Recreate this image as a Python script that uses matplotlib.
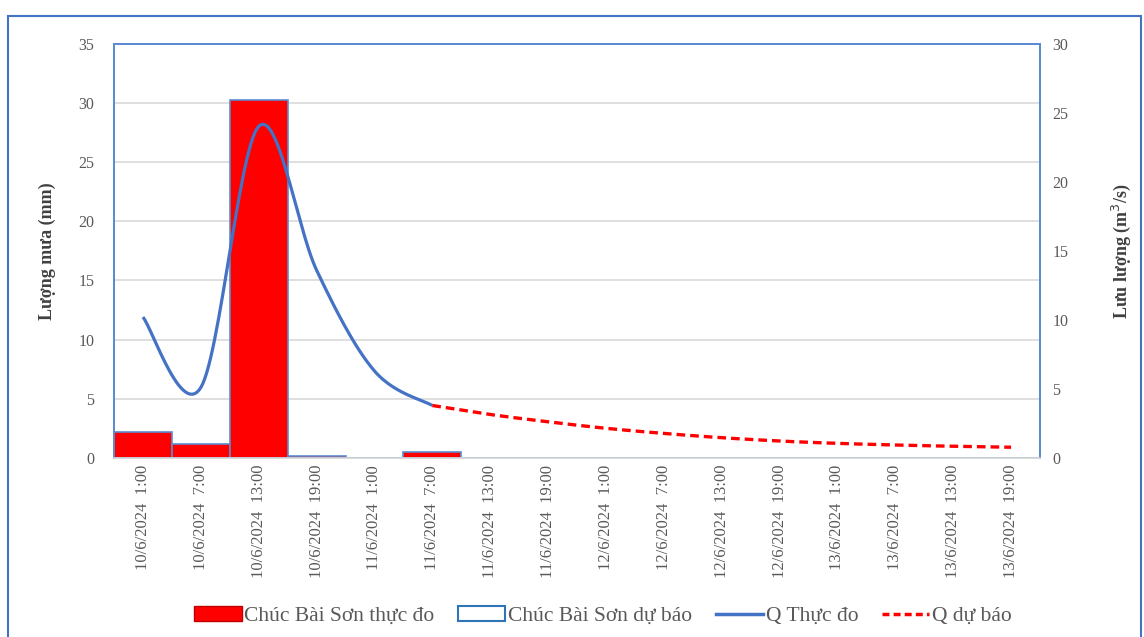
import numpy as np
import matplotlib
matplotlib.use("Agg")
import matplotlib.pyplot as plt
from matplotlib.patches import Rectangle, Patch
from matplotlib.lines import Line2D

plt.rcParams['font.family'] = ['Liberation Serif', 'DejaVu Serif']

# ---- data ----
time_labels = [
    "10/6/2024  1:00", "10/6/2024  7:00", "10/6/2024  13:00", "10/6/2024  19:00",
    "11/6/2024  1:00", "11/6/2024  7:00", "11/6/2024  13:00", "11/6/2024  19:00",
    "12/6/2024  1:00", "12/6/2024  7:00", "12/6/2024  13:00", "12/6/2024  19:00",
    "13/6/2024  1:00", "13/6/2024  7:00", "13/6/2024  13:00", "13/6/2024  19:00",
]
rain_observed = [2.2, 1.2, 30.2, 0.2, 0.0, 0.5, 0, 0, 0, 0, 0, 0, 0, 0, 0, 0]
rain_forecast = [0] * 16
q_observed = [10.2, 5.1, 24.0, 13.6, 6.3, 3.8]          # categories 0..5
q_forecast = [3.8, 3.15, 2.62, 2.15, 1.78, 1.47, 1.23, 1.06, 0.94, 0.85, 0.78]  # categories 5..15

BLUE = "#4472C4"
EDGE = "#5B8BD0"
GRAY = "#595959"
GRID = "#D9D9D9"


def smooth(xs, ys, n=30):
    """Excel-style smoothed line: cubic Bezier with Catmull-Rom control points."""
    xs = np.asarray(xs, float)
    ys = np.asarray(ys, float)
    pts = np.column_stack([xs, ys])
    out = []
    for i in range(len(pts) - 1):
        p0 = pts[i - 1] if i > 0 else pts[i]
        p1 = pts[i]
        p2 = pts[i + 1]
        p3 = pts[i + 2] if i + 2 < len(pts) else pts[i + 1]
        c1 = p1 + (p2 - p0) / 6.0
        c2 = p2 - (p3 - p1) / 6.0
        t = np.linspace(0, 1, n)[:, None]
        seg = ((1 - t) ** 3) * p1 + 3 * ((1 - t) ** 2) * t * c1 + 3 * (1 - t) * t ** 2 * c2 + t ** 3 * p2
        out.append(seg if i == 0 else seg[1:])
    seg = np.vstack(out)
    return seg[:, 0], seg[:, 1]


fig = plt.figure(figsize=(11.44, 6.37), dpi=100)
ax = fig.add_axes([114 / 1144, 1 - 458 / 637, (1040 - 114) / 1144, (458 - 43.5) / 637])
ax2 = ax.twinx()

x = np.arange(len(time_labels))

# rainfall bars
ax.bar(x, rain_forecast, width=1.0, color="white", edgecolor="#2E75B6", linewidth=1.0, zorder=2)
ax.bar(x, rain_observed, width=1.0, color="#FF0000", edgecolor=EDGE, linewidth=1.2, zorder=3)

ax.set_xlim(-0.5, len(time_labels) - 0.5)
ax.set_ylim(0, 35)
ax.set_yticks(np.arange(0, 36, 5))
ax.yaxis.grid(True, color=GRID, linewidth=1.2, zorder=0)
ax.set_axisbelow(True)
ax.set_xticks(x)
ax.set_xticklabels(time_labels, rotation=90, fontsize=12, color=GRAY)
ax.tick_params(axis='both', length=0, colors=GRAY, labelsize=11.5)
ax.tick_params(axis='x', pad=5, labelsize=12)
ax.tick_params(axis='y', pad=14)
ax.set_ylabel("Lượng mưa (mm)", fontsize=13, fontweight='bold', color="#404040", labelpad=16)

# discharge lines
xq = x[:len(q_observed)]
sx, sy = smooth(xq, q_observed)
ax2.plot(sx, sy, color=BLUE, linewidth=2.3, solid_capstyle='butt', zorder=5)
xf = x[len(q_observed) - 1:]
fx, fy = smooth(xf, q_forecast)
ax2.plot(fx, fy, color="#FF0000", linewidth=2.4, linestyle=(0, (2.6, 1.5)), zorder=6)

ax2.set_ylim(0, 30)
ax2.set_yticks(np.arange(0, 31, 5))
ax2.tick_params(axis='y', length=0, colors=GRAY, labelsize=11.5, pad=9)
ax2.set_ylabel("Lưu lượng (m$^3$/s)", fontsize=13, fontweight='bold', color="#404040", labelpad=30)

for a in (ax, ax2):
    for side in ("left", "right", "top"):
        a.spines[side].set_color(EDGE)
        a.spines[side].set_linewidth(1.4)
    a.spines["bottom"].set_color(GRID)
    a.spines["bottom"].set_linewidth(1.2)

# legend
handles = [
    Patch(facecolor="#FF0000", edgecolor="#C00000", linewidth=1.0),
    Patch(facecolor="white", edgecolor="#2E75B6", linewidth=1.5),
    Line2D([0], [0], color=BLUE, linewidth=2.5),
    Line2D([0], [0], color="#FF0000", linewidth=2.5, linestyle=(0, (2.0, 1.2))),
]
names = ["Chúc Bài Sơn thực đo", "Chúc Bài Sơn dự báo", "Q Thực đo", "Q dự báo"]
leg = fig.legend(handles, names, loc="center", bbox_to_anchor=(603 / 1144, 1 - 616 / 637),
                 ncol=4, frameon=False, fontsize=15.5, handlelength=2.2, handletextpad=0.12,
                 columnspacing=1.1, labelcolor=GRAY)

# outer chart border
fig.add_artist(Rectangle((8 / 1144, -0.02), (1141 - 8) / 1144, 1.02 - 16 / 637,
                         transform=fig.transFigure, fill=False, edgecolor=BLUE, linewidth=1.5))

fig.savefig("out.png", dpi=100)
